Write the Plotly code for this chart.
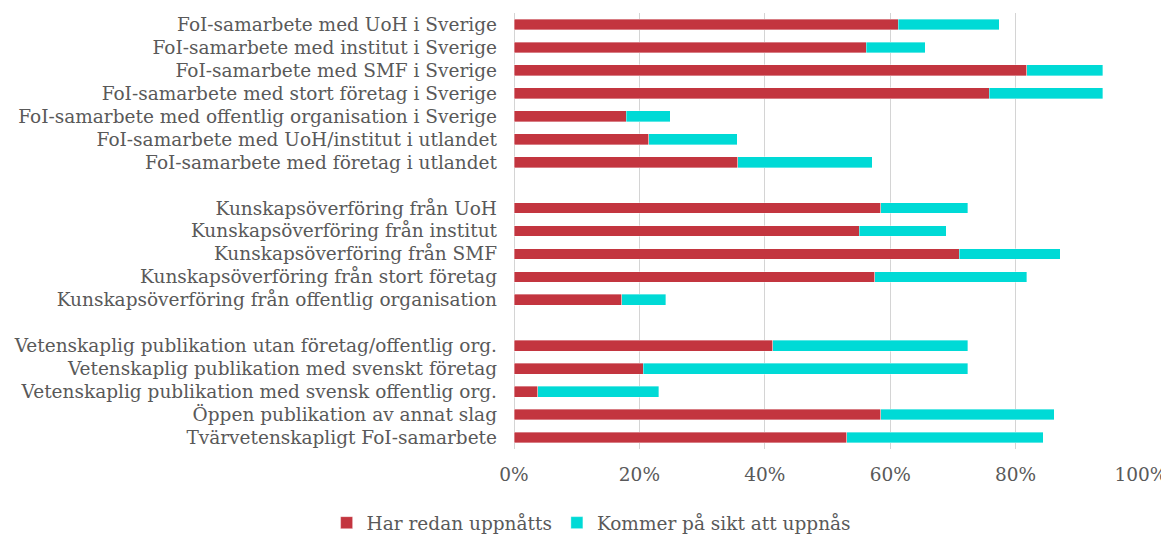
import plotly.graph_objects as go

categories = [
    "FoI-samarbete med UoH i Sverige",
    "FoI-samarbete med institut i Sverige",
    "FoI-samarbete med SMF i Sverige",
    "FoI-samarbete med stort företag i Sverige",
    "FoI-samarbete med offentlig organisation i Sverige",
    "FoI-samarbete med UoH/institut i utlandet",
    "FoI-samarbete med företag i utlandet",
    " ",
    "Kunskapsöverföring från UoH",
    "Kunskapsöverföring från institut",
    "Kunskapsöverföring från SMF",
    "Kunskapsöverföring från stort företag",
    "Kunskapsöverföring från offentlig organisation",
    "  ",
    "Vetenskaplig publikation utan företag/offentlig org.",
    "Vetenskaplig publikation med svenskt företag",
    "Vetenskaplig publikation med svensk offentlig org.",
    "Öppen publikation av annat slag",
    "Tvärvetenskapligt FoI-samarbete",
]

# cumulative totals (percent), None for spacer rows
redan = [61.3, 56.2, 81.8, 75.8, 17.9, 21.5, 35.7, None,
         58.5, 55.1, 71.0, 57.5, 17.2, None,
         41.3, 20.6, 3.8, 58.5, 53.1]
totalt = [77.4, 65.6, 93.9, 93.9, 24.9, 35.6, 57.1, None,
          72.4, 68.9, 87.1, 81.8, 24.2, None,
          72.4, 72.4, 23.1, 86.2, 84.4]

series_names = ["Har redan uppnåtts", "Kommer på sikt att uppnås"]
colors = ["#C3353F", "#00DAD6"]

red_vals = [None if r is None else r / 100 for r in redan]
cyan_vals = [None if r is None else (t - r) / 100 for r, t in zip(redan, totalt)]

fig = go.Figure()
fig.add_trace(go.Bar(
    y=categories, x=red_vals, orientation="h", name=series_names[0],
    marker=dict(color=colors[0], line=dict(color="rgba(255,255,255,0.45)", width=0.8)),
))
fig.add_trace(go.Bar(
    y=categories, x=cyan_vals, orientation="h", name=series_names[1],
    marker=dict(color=colors[1], line=dict(color="rgba(255,255,255,0.45)", width=0.8)),
))

font_family = "DejaVu Serif"
fsize = 18.5
# the page body has an 8px margin, so the figure is sized/offset accordingly
fig.update_layout(
    barmode="stack",
    bargap=0.53,
    width=1161, height=528,
    margin=dict(l=506, r=28, t=4.5, b=86.5, autoexpand=False),
    paper_bgcolor="white", plot_bgcolor="white",
    font=dict(family=font_family, size=fsize, color="#595959"),
    showlegend=True,
    legend=dict(
        orientation="h", x=0.123, xanchor="center", y=-0.17, yanchor="middle",
        font=dict(family=font_family, size=fsize, color="#595959"),
        traceorder="normal", itemwidth=30,
    ),
    xaxis=dict(
        range=[0, 1], tickformat=".0%", dtick=0.2, tick0=0,
        showgrid=True, gridcolor="#D4D4D4", gridwidth=1.3,
        zeroline=True, zerolinecolor="#D4D4D4", zerolinewidth=1.3,
        showline=False, ticks="", ticklabelstandoff=12, automargin=False,
        tickfont=dict(family=font_family, size=fsize, color="#595959"),
    ),
    yaxis=dict(
        categoryorder="array", categoryarray=categories,
        autorange="reversed", showgrid=False, showline=False,
        ticks="", ticklabelstandoff=16, automargin=False,
        tickfont=dict(family=font_family, size=fsize, color="#595959"),
    ),
)

fig.write_html("out.html")
